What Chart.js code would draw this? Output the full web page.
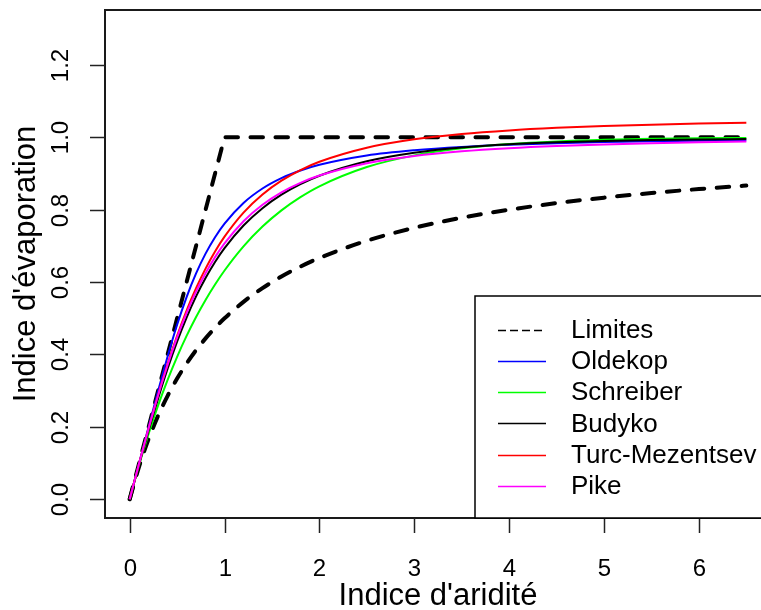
<!DOCTYPE html>
<html><head><meta charset="utf-8">
<script src="https://cdn.jsdelivr.net/npm/chart.js@4/dist/chart.umd.min.js"></script>
<style>html,body{margin:0;padding:0;overflow:hidden;background:#fff;width:761px;height:610px}canvas{display:block}</style>
</head><body>
<canvas id="c" width="800" height="610"></canvas>
<script>
// ---- data ----
const aridite = [0,0.1,0.2,0.3,0.4,0.5,0.6,0.7,0.8,0.9,1.0,1.2,1.4,1.6,1.8,2.0,2.5,3.0,3.5,4.0,4.5,5.0,5.5,6.0,6.5];
const limiteHautX = [0,1,6.5];
const limiteHautY = [0,1,1];
const limiteBas  = [0,0.0909,0.1667,0.2308,0.2857,0.3333,0.375,0.4118,0.4444,0.4737,0.5,0.5455,0.5833,0.6154,0.6429,0.6667,0.7143,0.75,0.7778,0.8,0.8182,0.8333,0.8462,0.8571,0.8667];
const oldekop    = [0,0.1,0.2,0.2992,0.3946,0.482,0.5587,0.624,0.6786,0.724,0.7616,0.8187,0.8587,0.8874,0.9084,0.9242,0.9499,0.9645,0.9737,0.9797,0.9838,0.9869,0.9891,0.9908,0.9922];
const schreiber  = [0,0.0952,0.1813,0.2592,0.3297,0.3935,0.4512,0.5034,0.5507,0.5934,0.6321,0.6988,0.7534,0.7981,0.8347,0.8647,0.9179,0.9502,0.9698,0.9817,0.9889,0.9933,0.9959,0.9975,0.9985];
const budyko     = [0,0.0976,0.1904,0.2785,0.3607,0.4355,0.5021,0.5605,0.6113,0.6555,0.6938,0.7564,0.8043,0.8416,0.8708,0.894,0.9338,0.9573,0.9718,0.9807,0.9863,0.9901,0.9925,0.9941,0.9953];
const turcMezentsev = [0,0.0996,0.1965,0.2885,0.374,0.4518,0.5214,0.5831,0.6373,0.6845,0.7255,0.792,0.8421,0.8802,0.9096,0.9325,0.9713,0.9945,1.0093,1.0193,1.0263,1.0314,1.0352,1.0382,1.0405];
const pike       = [0,0.0995,0.1961,0.2873,0.3714,0.4472,0.5145,0.5735,0.6247,0.669,0.7071,0.7682,0.8137,0.848,0.8742,0.8944,0.9285,0.9487,0.9615,0.9701,0.9762,0.9806,0.9839,0.9864,0.9884];
const xTicks = [0,1,2,3,4,5,6];
const xTickLabels = ['0','1','2','3','4','5','6'];
const yTicks = [0,0.2,0.4,0.6,0.8,1.0,1.2];
const yTickLabels = ['0.0','0.2','0.4','0.6','0.8','1.0','1.2'];
const legendLabels = ['Limites','Oldekop','Schreiber','Budyko','Turc-Mezentsev','Pike'];
const xTitle = "Indice d'aridité";
const yTitle = "Indice d'évaporation";

const pts = (xs, ys) => xs.map((x, i) => ({x: x, y: ys[i]}));
const FONT = '"Liberation Sans", Arial, sans-serif';

const curve = (label, data, color, order) => ({
  label, data, borderColor: color, backgroundColor: color, borderWidth: 2,
  pointRadius: 0, cubicInterpolationMode: 'monotone', fill: false, order
});

const datasets = [
  {label: 'Limites', data: pts(limiteHautX, limiteHautY), borderColor: '#000', borderWidth: 4,
   borderDash: [12.5, 12.5], borderCapStyle: 'round', pointRadius: 0, tension: 0, fill: false, order: 10},
  {label: 'Limites_bas', data: pts(aridite, limiteBas), borderColor: '#000', borderWidth: 4,
   borderDash: [12.5, 12.5], borderCapStyle: 'round', pointRadius: 0, cubicInterpolationMode: 'monotone', fill: false, order: 9},
  curve('Oldekop', pts(aridite, oldekop), '#0000FF', 8),
  curve('Schreiber', pts(aridite, schreiber), '#00FF00', 7),
  curve('Budyko', pts(aridite, budyko), '#000000', 6),
  curve('Turc-Mezentsev', pts(aridite, turcMezentsev), '#FF0000', 5),
  curve('Pike', pts(aridite, pike), '#FF00FF', 4)
];

const legendStyles = [
  {color: '#000', dash: [8, 4], width: 1.3},
  {color: '#0000FF', dash: [], width: 1.6},
  {color: '#00FF00', dash: [], width: 1.6},
  {color: '#000000', dash: [], width: 1.6},
  {color: '#FF0000', dash: [], width: 1.6},
  {color: '#FF00FF', dash: [], width: 1.6}
];

const rStyle = {
  id: 'rStyle',
  afterDraw(chart) {
    const ctx = chart.ctx, a = chart.chartArea;
    const xs = chart.scales.x, ys = chart.scales.y;
    ctx.save();
    // box
    ctx.strokeStyle = '#1a1a1a'; ctx.lineWidth = 2;
    ctx.strokeRect(a.left, a.top, a.right - a.left, a.bottom - a.top);
    // x ticks
    ctx.lineWidth = 1.5; ctx.strokeStyle = '#222';
    ctx.fillStyle = '#000';
    ctx.font = '24px ' + FONT;
    ctx.textAlign = 'center'; ctx.textBaseline = 'alphabetic';
    xTicks.forEach((v, i) => {
      const px = Math.round(xs.getPixelForValue(v)) + 0.5;
      ctx.beginPath(); ctx.moveTo(px, a.bottom); ctx.lineTo(px, a.bottom + 15); ctx.stroke();
      ctx.fillText(xTickLabels[i], px, 576);
    });
    // y ticks
    yTicks.forEach((v, i) => {
      const py = Math.round(ys.getPixelForValue(v)) + 0.5;
      ctx.beginPath(); ctx.moveTo(a.left - 15, py); ctx.lineTo(a.left, py); ctx.stroke();
      ctx.save();
      ctx.translate(68, py); ctx.rotate(-Math.PI / 2);
      ctx.textAlign = 'center'; ctx.textBaseline = 'alphabetic';
      ctx.fillText(yTickLabels[i], 0, 0);
      ctx.restore();
    });
    // axis titles
    ctx.font = '31px ' + FONT;
    ctx.textAlign = 'center'; ctx.textBaseline = 'alphabetic';
    ctx.fillText(xTitle, (a.left + a.right) / 2, 605);
    ctx.save();
    ctx.translate(35, (a.top + a.bottom) / 2); ctx.rotate(-Math.PI / 2);
    ctx.fillText(yTitle, 0, 0);
    ctx.restore();
    // legend
    const lx = 475, ly = 296;
    ctx.fillStyle = '#fff';
    ctx.fillRect(lx, ly, 340, a.bottom - ly);
    ctx.strokeStyle = '#000'; ctx.lineWidth = 1.5;
    ctx.strokeRect(lx, ly, 340, a.bottom - ly);
    ctx.font = '26px ' + FONT;
    ctx.textAlign = 'left'; ctx.textBaseline = 'middle';
    legendLabels.forEach((lab, i) => {
      const y = 329.5 + i * 31.3;
      const st = legendStyles[i];
      ctx.strokeStyle = st.color; ctx.lineWidth = st.width; ctx.setLineDash(st.dash);
      ctx.beginPath(); ctx.moveTo(498, Math.round(y) + 0.5); ctx.lineTo(546, Math.round(y) + 0.5); ctx.stroke();
      ctx.setLineDash([]);
      ctx.fillStyle = '#000';
      ctx.fillText(lab, 571, y + 1);
    });
    ctx.restore();
  }
};

new Chart(document.getElementById('c'), {
  type: 'line',
  data: {datasets},
  options: {
    responsive: false, animation: false, devicePixelRatio: 1,
    layout: {padding: {left: 105, top: 10, right: 29, bottom: 92}},
    plugins: {legend: {display: false}, tooltip: {enabled: false}},
    scales: {
      x: {type: 'linear', min: -0.26, max: 6.76, display: false,
          afterBuildTicks: s => { s.ticks = xTicks.map(v => ({value: v})); }},
      y: {type: 'linear', min: -0.052, max: 1.352, display: false,
          afterBuildTicks: s => { s.ticks = yTicks.map(v => ({value: v})); }}
    }
  },
  plugins: [rStyle]
});
</script>
</body></html>
